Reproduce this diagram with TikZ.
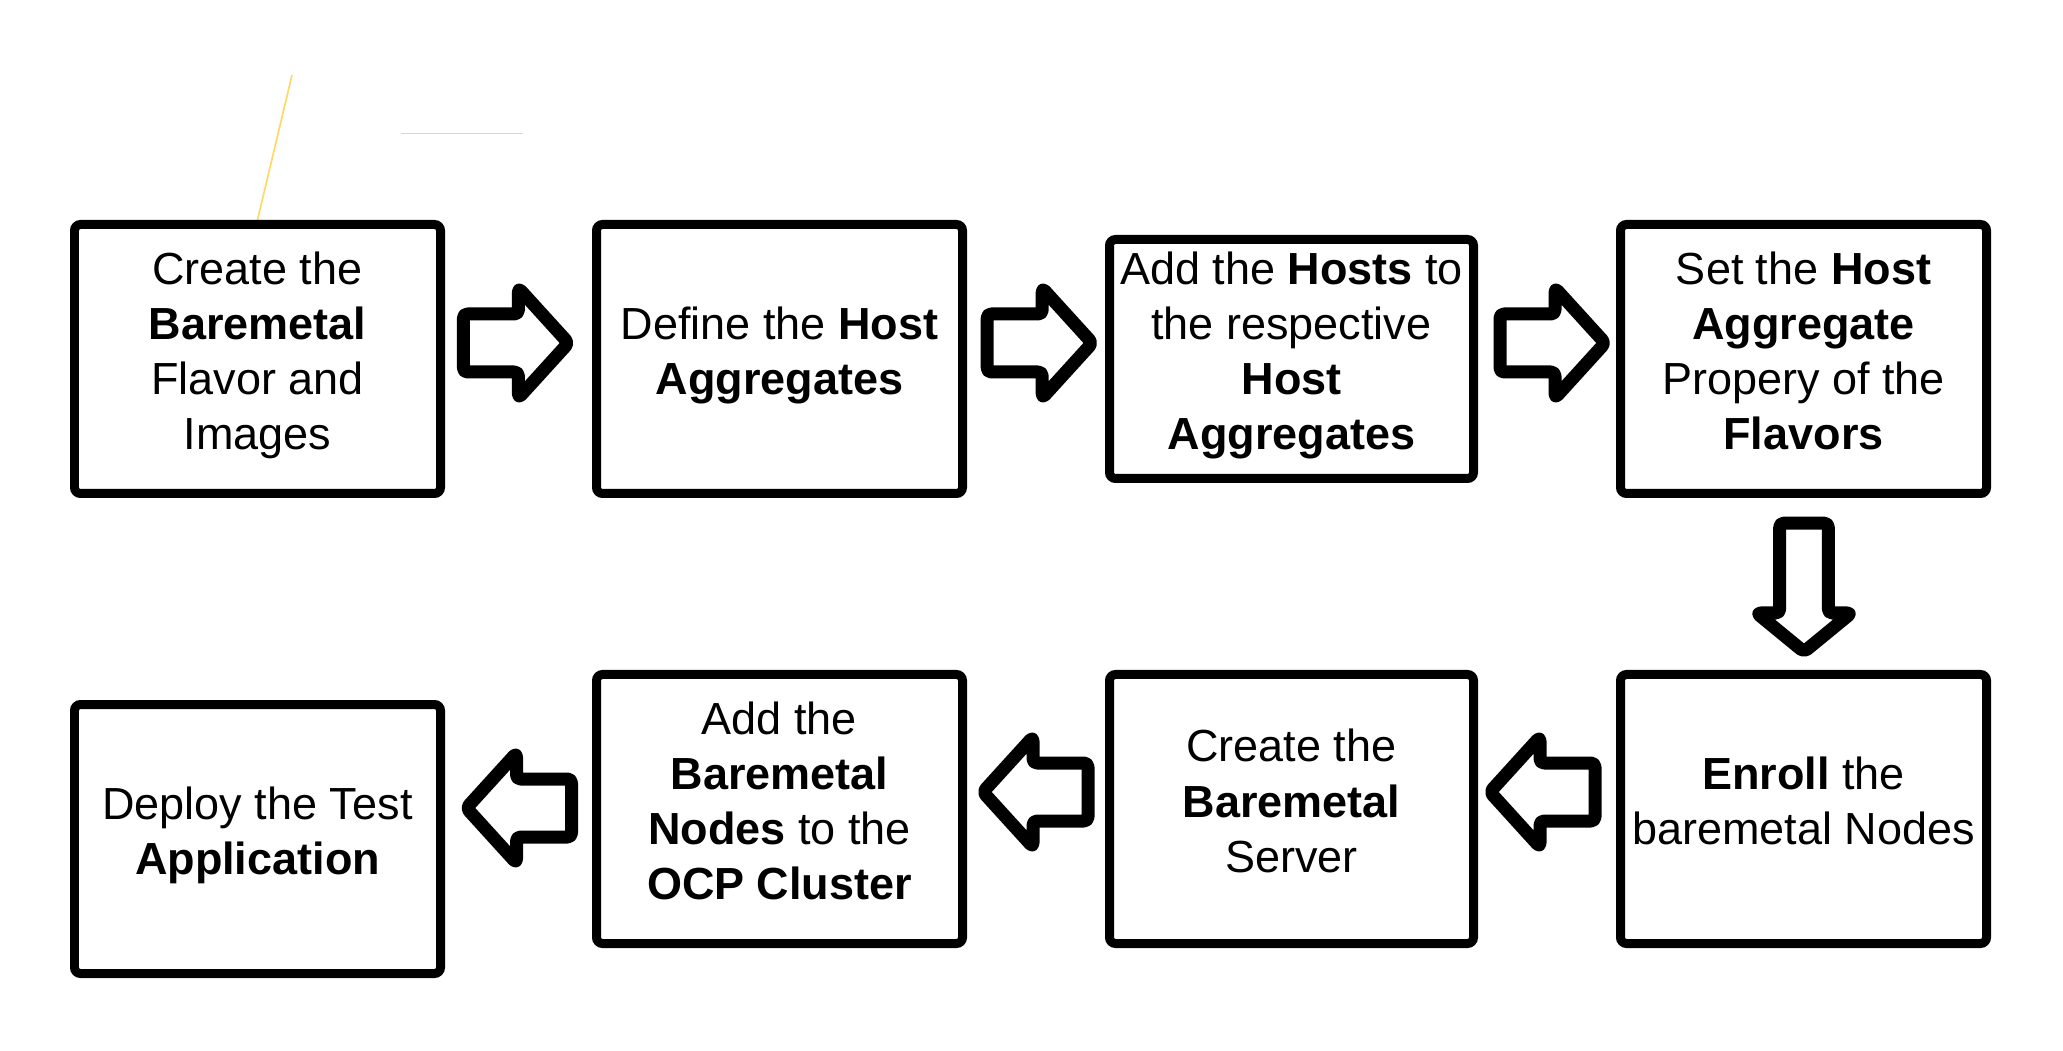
\documentclass[tikz,border=0pt]{standalone}
\usepackage{fontspec}
\setmainfont{Liberation Sans}
\definecolor{linegold}{HTML}{FFD966}
\tikzset{
  stepbox/.style={draw, line width=0.09cm, rounded corners=0.06cm, minimum width=3.66cm, minimum height=2.69cm, align=center, inner sep=0pt, font=\fontsize{12.8}{15.7}\selectfont, execute at begin node=\strut, execute at end node=\strut},
  blockarrow/.style={line width=0.13cm, line join=round, rounded corners=0.04cm},
  blkright/.pic={\draw[blockarrow] (-0.52,0.29) -- (0.03,0.29) -- (0.03,0.55) -- (0.53,0) -- (0.03,-0.55) -- (0.03,-0.29) -- (-0.52,-0.29) -- cycle;},
  blkdown/.pic={\draw[blockarrow] (-0.243,0.643) -- (0.243,0.643) -- (0.243,-0.255) -- (0.473,-0.255) -- (0,-0.643) -- (-0.473,-0.255) -- (-0.243,-0.255) -- cycle;}
}
\begin{document}
\begin{tikzpicture}
\useasboundingbox (0,0) rectangle (20.63,10.5);

% stray lines
\draw[linegold, line width=0.017cm] (2.92,9.75) -- (2.566,8.263);
\draw[linegold, line width=0.01cm] (4.01,9.16) -- (5.23,9.16);

% first row
\node[stepbox] at (2.575,6.91) (flavor) {Create the\\ \textbf{Baremetal}\\ Flavor and\\ Images};
\node[stepbox] at (7.795,6.91) (define) {Define the \textbf{Host}\\ \textbf{Aggregates}};
\node[stepbox, minimum width=3.64cm, minimum height=2.39cm] at (12.915,6.91) (hosts) {Add the \textbf{Hosts} to\\ the respective\\ \textbf{Host}\\ \textbf{Aggregates}};
\node[stepbox] at (18.035,6.91) (property) {Set the \textbf{Host}\\ \textbf{Aggregate}\\ Propery of the\\ \textbf{Flavors}};

% second row
\node[stepbox] at (18.035,2.41) (enroll) {\textbf{Enroll} the\\ baremetal Nodes};
\node[stepbox, minimum width=3.64cm] at (12.915,2.41) (server) {Create the\\ \textbf{Baremetal}\\ Server};
\node[stepbox] at (7.795,2.41) (cluster) {Add the\\ \textbf{Baremetal}\\ \textbf{Nodes} to the\\ \textbf{OCP Cluster}};
\node[stepbox] at (2.575,2.11) (deploy) {Deploy the Test\\ \textbf{Application}};

% block arrows
\pic at (5.154,7.07) {blkright};
\pic at (10.392,7.07) {blkright};
\pic at (15.52,7.07) {blkright};
\pic at (18.04,4.625) {blkdown};
\pic[rotate=180] at (15.43,2.58) {blkright};
\pic[rotate=180] at (10.36,2.58) {blkright};
\pic[rotate=180] at (5.195,2.42) {blkright};
\end{tikzpicture}
\end{document}
